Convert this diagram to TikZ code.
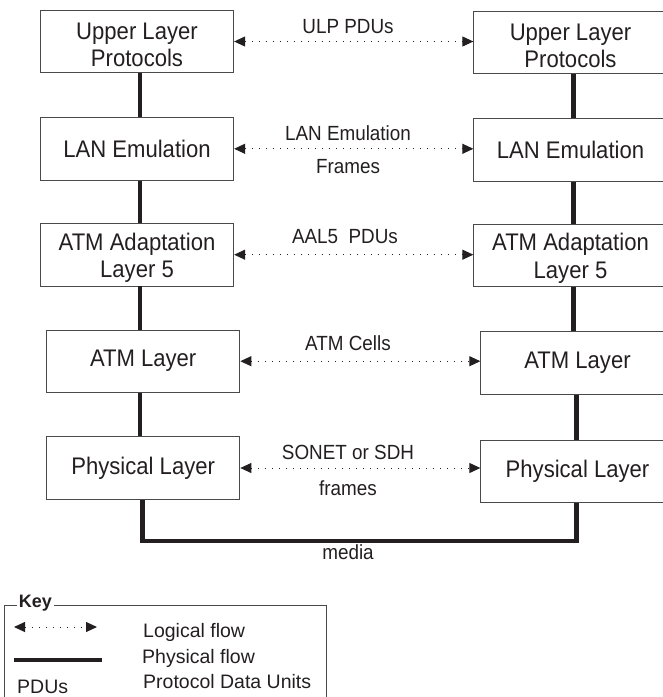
\documentclass[tikz,border=0pt]{standalone}
\usepackage{fontspec}
\setmainfont{Liberation Sans}
\newfontfamily\narrowsans[FakeStretch=0.92]{Liberation Sans}
\usetikzlibrary{arrows.meta}
\definecolor{ink}{HTML}{231F20}
\definecolor{frame}{HTML}{4A4A4A}
% taller first line so two-line labels sit a little lower in their boxes
\newcommand{\firstline}{\rule{0pt}{23.5pt}}
\begin{document}
\begin{tikzpicture}[x=1pt,y=-1pt,
  layerbox/.style={draw=frame, line width=0.9pt, minimum width=193.4pt,
    minimum height=62.5pt, inner sep=0pt, align=center, text=ink,
    font=\narrowsans\fontsize{24}{27.5}\selectfont},
  phys/.style={draw=ink, line width=4.4pt},
  logic/.style={draw=ink, line width=1pt, dash pattern=on 1pt off 6pt,
    {Triangle[length=11pt,width=10pt,fill=ink]}-{Triangle[length=11pt,width=10pt,fill=ink]}},
  flowlabel/.style={text=ink, inner sep=0pt, font=\narrowsans\fontsize{20.5}{22}\selectfont},
  keytext/.style={text=ink, inner sep=0pt, anchor=west, font=\fontsize{19.5}{22}\selectfont}]
\useasboundingbox (0,0) rectangle (663,697);

% protocol stacks, left and right end systems
\node[layerbox] (b1l) at (137,41.5) {\firstline Upper Layer\\Protocols};
\node[layerbox] (b2l) at (137,148.8) {LAN Emulation};
\node[layerbox] (b3l) at (137,254.7) {\firstline ATM Adaptation\\Layer 5};
\node[layerbox] (b4l) at (143.2,361.2) {ATM Layer};
\node[layerbox] (b5l) at (143.2,468) {Physical Layer};

\node[layerbox] (b1r) at (570.5,42.3) {\firstline Upper Layer\\Protocols};
\node[layerbox] (b2r) at (570.5,149.8) {LAN Emulation};
\node[layerbox] (b3r) at (570.5,255.3) {\firstline ATM Adaptation\\Layer 5};
\node[layerbox] (b4r) at (577.5,362.8) {ATM Layer};
\node[layerbox] (b5r) at (577.5,471.3) {Physical Layer};

% physical flow columns
\coordinate (colLa) at (139.7,0);
\coordinate (colLb) at (142.5,0);
\coordinate (colRa) at (573.3,0);
\coordinate (colRb) at (576.5,0);
\coordinate (mediaY) at (0,540.7);

\draw[phys] (b1l.south -| colLa) -- (b2l.north -| colLa);
\draw[phys] (b2l.south -| colLa) -- (b3l.north -| colLa);
\draw[phys] (b3l.south -| colLa) -- (b4l.north -| colLa);
\draw[phys] (b4l.south -| colLa) -- (b5l.north -| colLa);
\draw[phys] (b1r.south -| colRa) -- (b2r.north -| colRa);
\draw[phys] (b2r.south -| colRa) -- (b3r.north -| colRa);
\draw[phys] (b3r.south -| colRa) -- (b4r.north -| colRa);
\draw[phys] (b4r.south -| colRb) -- (b5r.north -| colRb);
\draw[phys, line join=miter] (b5l.south -| colLb) -- (colLb |- mediaY)
  -- (colRb |- mediaY) -- (b5r.south -| colRb);

% logical flows between peer layers
\draw[logic] (b1l.east) -- (b1l.east -| b1r.west);
\draw[logic] (b2l.east) -- (b2l.east -| b2r.west);
\draw[logic] (b3l.east) -- (b3l.east -| b3r.west);
\draw[logic] (b4l.east) -- (b4l.east -| b4r.west);
\draw[logic] (b5l.east) -- (b5l.east -| b5r.west);

\node[flowlabel] (l1) at (348,26.7) {ULP PDUs};
\node[flowlabel] (l2a) at (348,133) {LAN Emulation};
\node[flowlabel] (l2b) at (348,166.7) {Frames};
\node[flowlabel] (l3) at (345,237) {AAL5\ \ PDUs};
\node[flowlabel] (l4) at (348,342.7) {ATM Cells};
\node[flowlabel] (l5a) at (348,452.7) {SONET or SDH};
\node[flowlabel] (l5b) at (348,487.7) {frames};
\node[flowlabel] (media) at (348,552.3) {media};

% key
\draw[frame, line width=0.9pt] (4.7,715) -- (4.7,605.7) -- (326,605.7) -- (326,715);
\node[fill=white, text=ink, inner sep=2pt, font=\fontsize{18}{20}\selectfont\bfseries]
  (keyttl) at (35.5,603) {Key};
\coordinate (ka1) at (14,627);
\coordinate (ka2) at (97,627);
\draw[logic] (ka1) -- (ka2);
\coordinate (kp1) at (14,660);
\coordinate (kp2) at (102,660);
\draw[phys] (kp1) -- (kp2);
\node[keytext] (kt1) at (143,632) {Logical flow};
\node[keytext] (kt2) at (142,658) {Physical flow};
\node[keytext] (kt3) at (143,682) {Protocol Data Units};
\node[keytext] (kt4) at (17,686.5) {PDUs};
\end{tikzpicture}
\end{document}
